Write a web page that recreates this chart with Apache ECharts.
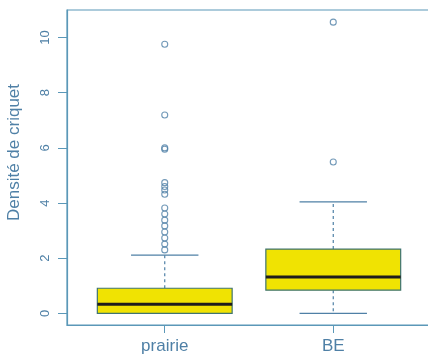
<!DOCTYPE html>
<html><head><meta charset="utf-8">
<script src="https://cdn.jsdelivr.net/npm/echarts@6/dist/echarts.min.js"></script>
<style>html,body{margin:0;padding:0;background:#fff}#c{width:428px;height:360px}</style>
</head><body><div id="c"></div>
<script>
var categories = ['prairie', 'BE'];
var whiskerLow = [0.0, 0.0];
var q1 = [0.0, 0.84];
var median = [0.33, 1.32];
var q3 = [0.91, 2.33];
var whiskerHigh = [2.11, 4.04];
var prairieOutliers = [9.76, 7.19, 6.0, 5.95, 4.74, 4.6, 4.47, 4.32, 3.82, 3.6, 3.38, 3.17, 2.95, 2.73, 2.51, 2.3];
var beOutliers = [10.56, 5.49];
var yTicks = [0, 2, 4, 6, 8, 10];

var textColor = '#4f80a6';
var lineColor = '#5b98b8';
var font = 'Liberation Sans, Arial, sans-serif';

var boxData = categories.map(function (c, i) {
  return [i + 1, whiskerLow[i], q1[i], median[i], q3[i], whiskerHigh[i]];
});
var outlierData = [];
prairieOutliers.forEach(function (v) { outlierData.push([1, v]); });
beOutliers.forEach(function (v) { outlierData.push([2, v]); });

var boxWex = 0.8;
function renderBox(params, api) {
  var x = api.value(0);
  var lo = api.coord([x, api.value(1)]);
  var b1 = api.coord([x - boxWex / 2, api.value(2)]);
  var b2 = api.coord([x + boxWex / 2, api.value(4)]);
  var med1 = api.coord([x - boxWex / 2, api.value(3)]);
  var med2 = api.coord([x + boxWex / 2, api.value(3)]);
  var hi = api.coord([x, api.value(5)]);
  var s1 = api.coord([x - boxWex / 4, 0]);
  var s2 = api.coord([x + boxWex / 4, 0]);
  var cx = lo[0];
  var children = [];
  children.push({ type: 'line', shape: { x1: cx, y1: b2[1], x2: cx, y2: hi[1] },
    style: { stroke: textColor, lineWidth: 1.2, lineDash: [3, 3] } });
  children.push({ type: 'line', shape: { x1: cx, y1: b1[1], x2: cx, y2: lo[1] },
    style: { stroke: textColor, lineWidth: 1.2, lineDash: [3, 3] } });
  children.push({ type: 'line', shape: { x1: s1[0], y1: hi[1], x2: s2[0], y2: hi[1] },
    style: { stroke: textColor, lineWidth: 1.3 } });
  children.push({ type: 'line', shape: { x1: s1[0], y1: lo[1], x2: s2[0], y2: lo[1] },
    style: { stroke: textColor, lineWidth: 1.3 } });
  children.push({ type: 'rect', shape: { x: b1[0], y: b2[1], width: b2[0] - b1[0], height: b1[1] - b2[1] },
    style: { fill: '#f0e302', stroke: '#3f7470', lineWidth: 1.2 } });
  children.push({ type: 'line', shape: { x1: med1[0], y1: med1[1], x2: med2[0], y2: med2[1] },
    style: { stroke: '#1c1c1c', lineWidth: 3 } });
  return { type: 'group', children: children };
}

var chart = echarts.init(document.getElementById('c'), null, { renderer: 'canvas' });
chart.setOption({
  animation: false,
  backgroundColor: '#fff',
  grid: { left: 67, top: 10, right: -3, bottom: 35, show: true, borderColor: lineColor, borderWidth: 1.2, outerBoundsMode: 'none' },
  xAxis: {
    type: 'value', min: 0.42, max: 2.58,
    splitLine: { show: false },
    axisLine: { show: true, onZero: false, lineStyle: { color: lineColor, width: 1.2 } },
    axisTick: { show: true, customValues: [1, 2], length: 8, lineStyle: { color: lineColor } },
    axisLabel: { customValues: [1, 2], formatter: function (v) { return categories[Math.round(v) - 1]; },
      color: textColor, fontSize: 17, fontFamily: font, margin: 13 }
  },
  yAxis: {
    type: 'value', min: -0.423, max: 11.0,
    name: 'Densité de criquet', nameLocation: 'middle', nameGap: 44, nameRotate: 90,
    nameTextStyle: { color: textColor, fontSize: 17, fontFamily: font, padding: [0, 0, 0, 30] },
    splitLine: { show: false },
    axisLine: { show: true, onZero: false, lineStyle: { color: lineColor, width: 1.2 } },
    axisTick: { show: true, customValues: yTicks, length: 9, lineStyle: { color: lineColor } },
    axisLabel: { customValues: yTicks, rotate: 90, color: textColor, fontSize: 13, fontFamily: font, margin: 15 }
  },
  series: [
    { type: 'custom', renderItem: renderBox, data: boxData, encode: { x: 0, y: [1, 2, 3, 4, 5] }, clip: false },
    { type: 'scatter', data: outlierData, symbol: 'circle', symbolSize: 6,
      itemStyle: { color: 'rgba(0,0,0,0)', borderColor: textColor, borderWidth: 1.1 } }
  ]
});
</script></body></html>
